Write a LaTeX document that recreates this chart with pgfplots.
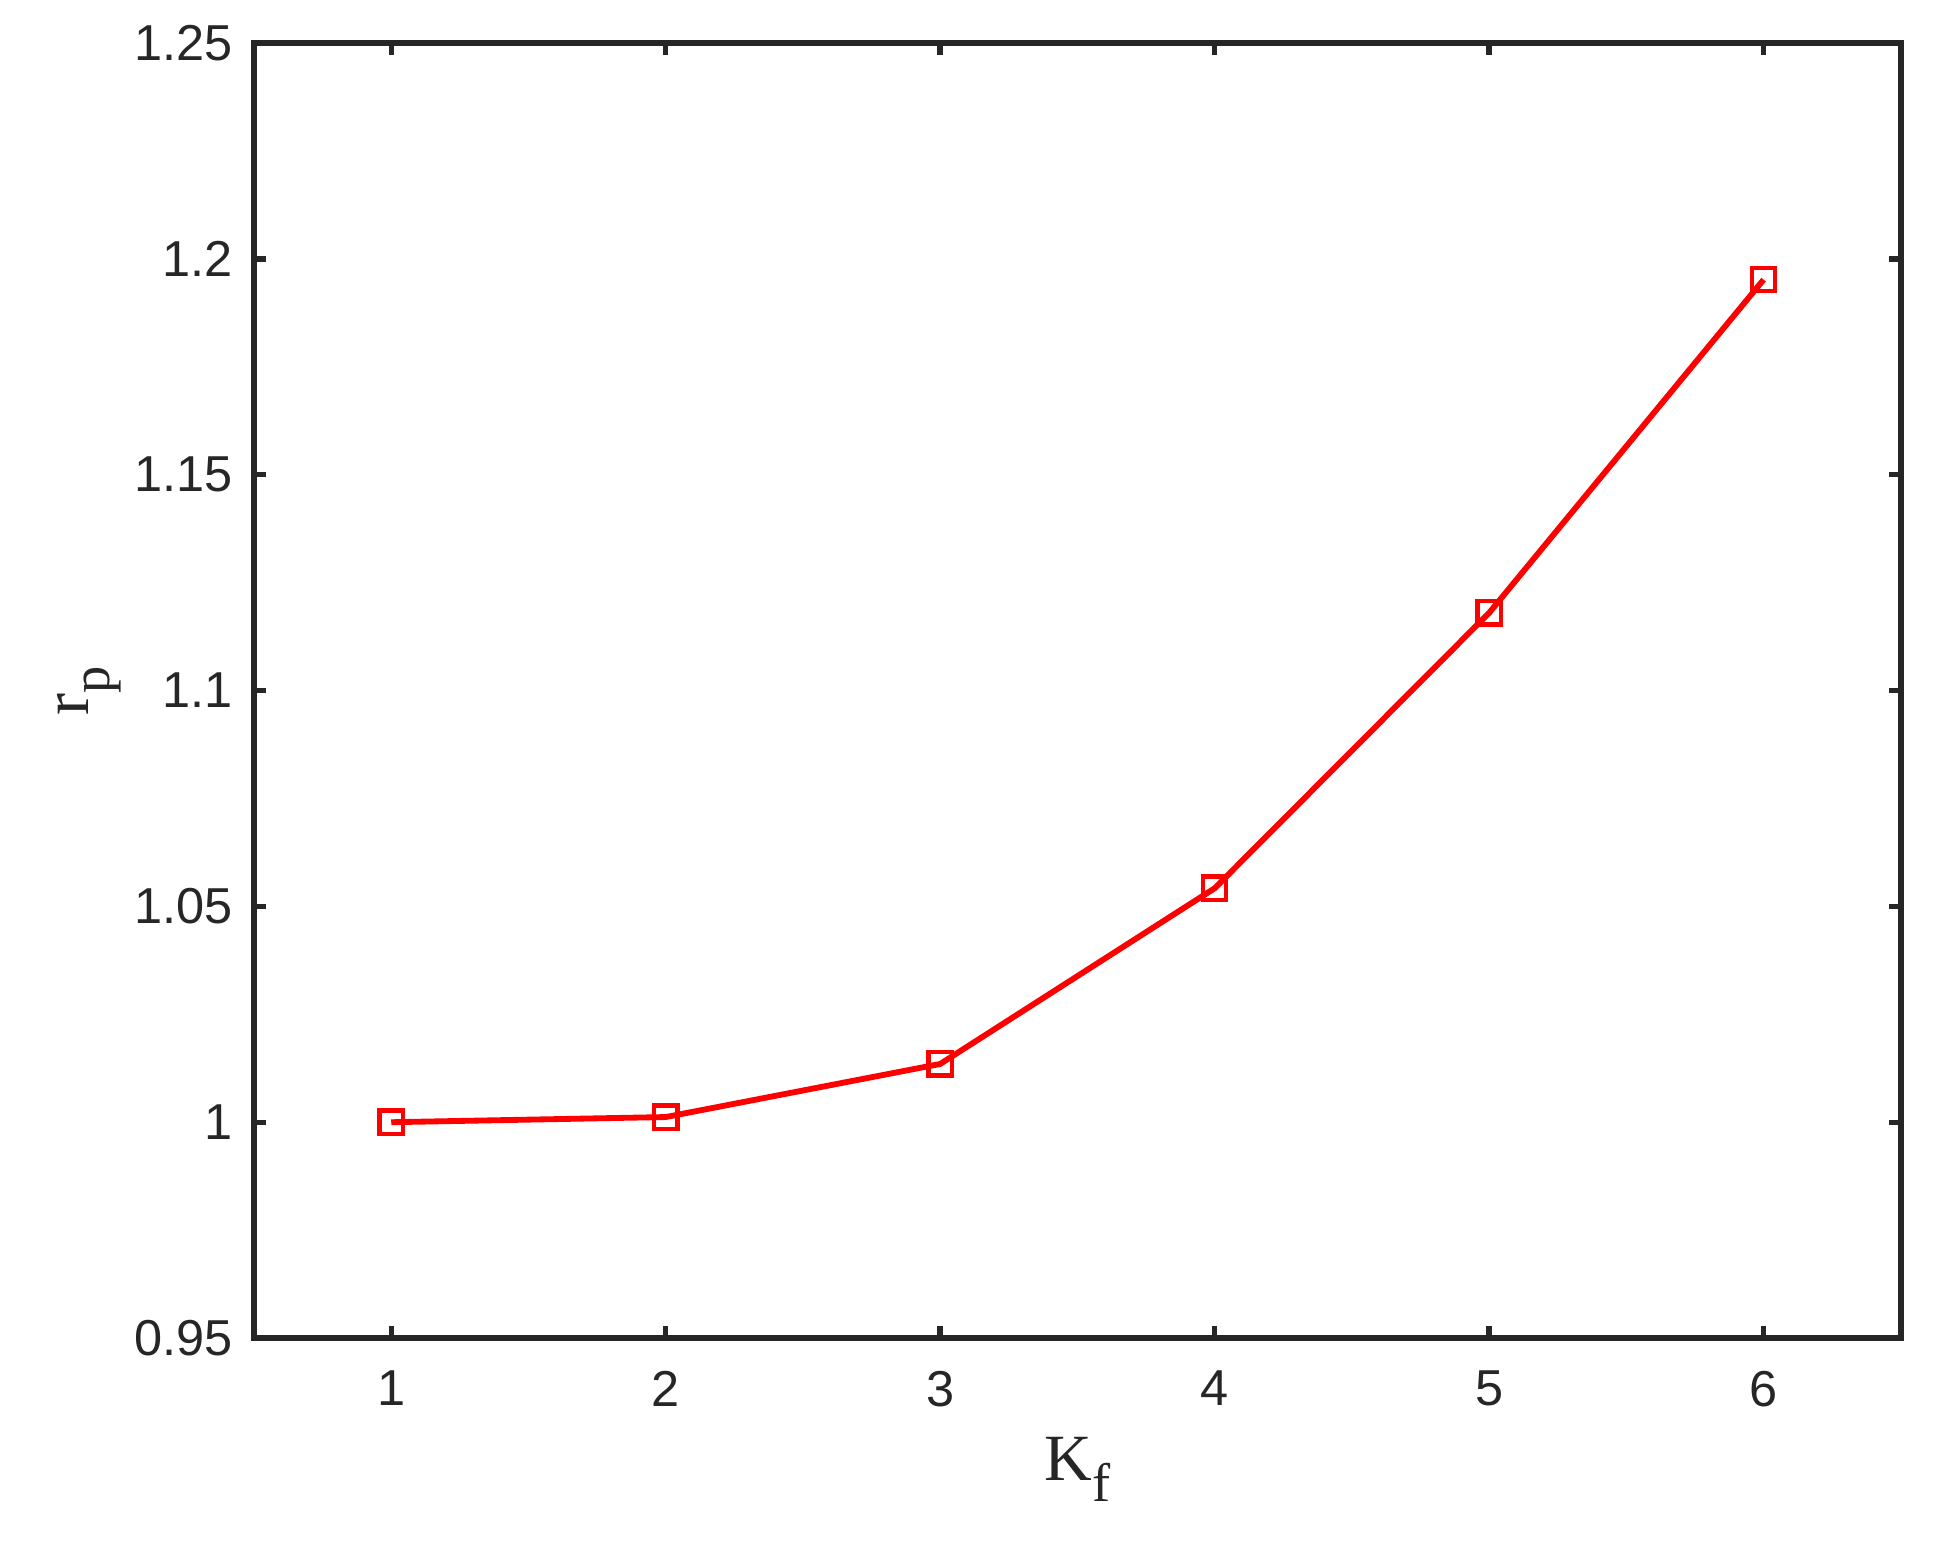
\documentclass[border=0pt]{standalone}
\usepackage{fontspec}
\setmainfont{Liberation Sans}
\newfontfamily\timesf{Liberation Serif}
\usepackage{pgfplots}
\pgfplotsset{compat=1.18}
\definecolor{axgray}{HTML}{262626}

\begin{document}
\begin{tikzpicture}
\begin{axis}[
    scale only axis,
    width=424pt, height=333.4pt,
    xmin=0.5, xmax=6.5,
    ymin=0.95, ymax=1.25,
    xtick={1,2,3,4,5,6},
    ytick={0.95,1,1.05,1.1,1.15,1.2,1.25},
    yticklabels={0.95,1,1.05,1.1,1.15,1.2,1.25},
    tick align=inside,
    major tick length=3pt,
    axis line style={axgray, line width=1.6pt},
    every tick/.style={axgray, line width=1.4pt},
    tick label style={font=\fontsize{13}{15}\selectfont, text=axgray},
    /pgf/number format/assume math mode=true,
    xticklabel style={yshift=-5pt},
    yticklabel style={xshift=-2pt},
    xlabel={\fontsize{17}{20}\selectfont\timesf K\raisebox{-0.7ex}{\fontsize{14}{16}\selectfont f}},
    ylabel={\fontsize{17}{20}\selectfont\timesf r\raisebox{-0.7ex}{\fontsize{14}{16}\selectfont p}},
    xlabel style={at={(rel axis cs:0.5,0)}, anchor=base, yshift=-36.6pt, text=axgray},
    ylabel style={at={(rel axis cs:-0.1,0.5)}, anchor=center, text=axgray},
    clip=false,
]
\addplot[color=red, line width=1.5pt, mark=square, mark size=3pt, mark options={line width=1.1pt}]
    coordinates {(1,1.0000) (2,1.0012) (3,1.0135) (4,1.0542) (5,1.1180) (6,1.1952)};
\coordinate (bl) at (rel axis cs:0,0);
\coordinate (tr) at (rel axis cs:1,1);
\end{axis}
\pgfresetboundingbox
\path[use as bounding box] ([shift={(-65.4pt,-54.6pt)}]bl) rectangle ([shift={(10.6pt,11.1pt)}]tr);
\end{tikzpicture}
\end{document}
